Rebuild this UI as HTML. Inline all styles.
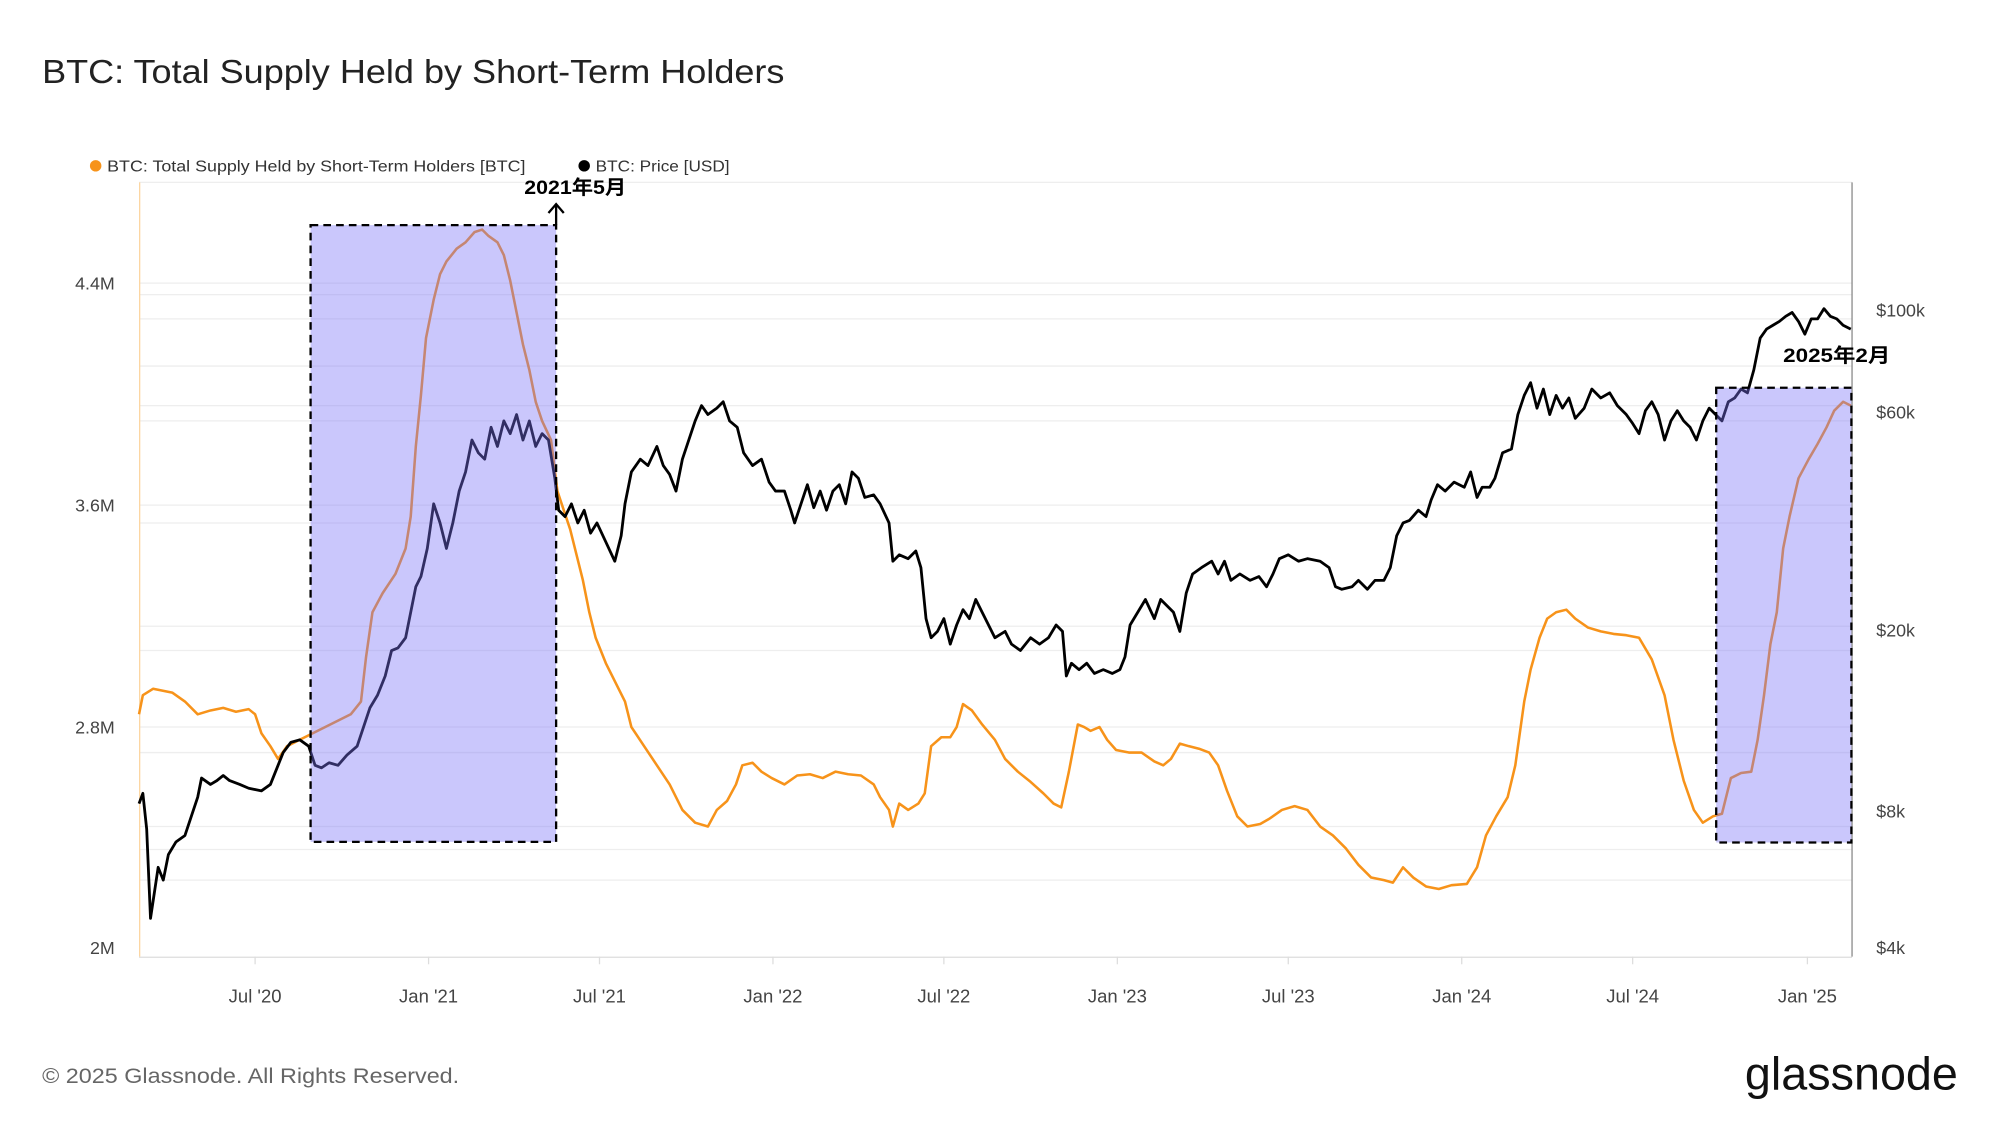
<!DOCTYPE html>
<html><head><meta charset="utf-8"><style>
html,body{margin:0;padding:0;background:#fff;}
svg{display:block;}
text{font-family:"Liberation Sans","Noto Sans CJK SC",sans-serif;}
</style></head><body>
<svg width="2000" height="1125" viewBox="0 0 1568 882" xmlns="http://www.w3.org/2000/svg">
<rect width="1568" height="882" fill="#fff"/>
<text x="33" y="65" font-size="26" fill="#222" textLength="582" lengthAdjust="spacingAndGlyphs">BTC: Total Supply Held by Short-Term Holders</text>
<circle cx="75" cy="130" r="4.5" fill="#f7931a"/>
<text x="84" y="134.5" font-size="12.5" fill="#333" textLength="328" lengthAdjust="spacingAndGlyphs">BTC: Total Supply Held by Short-Term Holders [BTC]</text>
<circle cx="458" cy="130" r="4.5" fill="#000"/>
<text x="467" y="134.5" font-size="12.5" fill="#333" textLength="105" lengthAdjust="spacingAndGlyphs">BTC: Price [USD]</text>
<g stroke="#eeeeee" stroke-width="1">
<line x1="109" x2="1452" y1="143" y2="143"/>
<line x1="109" x2="1452" y1="222" y2="222"/>
<line x1="109" x2="1452" y1="231" y2="231"/>
<line x1="109" x2="1452" y1="250" y2="250"/>
<line x1="109" x2="1452" y1="287" y2="287"/>
<line x1="109" x2="1452" y1="318" y2="318"/>
<line x1="109" x2="1452" y1="330" y2="330"/>
<line x1="109" x2="1452" y1="396" y2="396"/>
<line x1="109" x2="1452" y1="410" y2="410"/>
<line x1="109" x2="1452" y1="491" y2="491"/>
<line x1="109" x2="1452" y1="510" y2="510"/>
<line x1="109" x2="1452" y1="570" y2="570"/>
<line x1="109" x2="1452" y1="590" y2="590"/>
<line x1="109" x2="1452" y1="648" y2="648"/>
<line x1="109" x2="1452" y1="666" y2="666"/>
<line x1="109" x2="1452" y1="690" y2="690"/>
</g>
<line x1="109" x2="1452" y1="750.5" y2="750.5" stroke="#ddd"/>
<line x1="109.5" x2="109.5" y1="143" y2="750" stroke="#fcd5a0"/>
<line x1="1452" x2="1452" y1="143" y2="750" stroke="#888"/>
<g stroke="#ddd"><line x1="200" x2="200" y1="750" y2="756"/><line x1="336" x2="336" y1="750" y2="756"/><line x1="470" x2="470" y1="750" y2="756"/><line x1="606" x2="606" y1="750" y2="756"/><line x1="740" x2="740" y1="750" y2="756"/><line x1="876" x2="876" y1="750" y2="756"/><line x1="1010" x2="1010" y1="750" y2="756"/><line x1="1146" x2="1146" y1="750" y2="756"/><line x1="1280" x2="1280" y1="750" y2="756"/><line x1="1417" x2="1417" y1="750" y2="756"/></g>
<g font-size="14" fill="#444" text-anchor="end">
<text x="90" y="227">4.4M</text><text x="90" y="401">3.6M</text><text x="90" y="575">2.8M</text><text x="90" y="748">2M</text>
</g>
<g font-size="14" fill="#444">
<text x="1471" y="248">$100k</text><text x="1471" y="328">$60k</text><text x="1471" y="499">$20k</text><text x="1471" y="641">$8k</text><text x="1471" y="748">$4k</text>
</g>
<g font-size="14.5" fill="#444" text-anchor="middle">
<text x="200" y="786">Jul '20</text><text x="336" y="786">Jan '21</text><text x="470" y="786">Jul '21</text><text x="606" y="786">Jan '22</text><text x="740" y="786">Jul '22</text><text x="876" y="786">Jan '23</text><text x="1010" y="786">Jul '23</text><text x="1146" y="786">Jan '24</text><text x="1280" y="786">Jul '24</text><text x="1417" y="786">Jan '25</text>
</g>
<polyline fill="none" stroke="#f7931a" stroke-width="2" stroke-linejoin="round" points="109,560 112,545 120,540 135,543 145,550 155,560 165,557 175,555 185,558 195,556 200,560 205,575 212,585 218,595 225,585 235,580 245,575 255,570 265,565 275,560 283,550 287,515 292,480 300,465 310,450 318,430 322,405 326,350 330,310 334,265 340,235 345,215 350,205 358,195 365,190 372,182 378,180 383,185 390,190 395,200 400,220 405,245 410,270 415,290 420,315 425,330 432,345 437,385 442,400 447,415 452,435 457,455 462,480 467,500 475,520 485,540 490,550 495,570 505,585 515,600 525,615 535,635 545,645 555,648 562,635 570,628 577,615 582,600 590,598 597,605 605,610 615,615 625,608 635,607 645,610 655,605 665,607 675,608 685,615 690,625 697,635 700,648 705,630 712,635 720,630 725,622 730,585 738,578 745,578 750,570 755,552 762,557 770,568 780,580 788,595 798,605 808,613 818,622 826,630 832,633 838,605 845,568 850,570 855,573 862,570 868,580 875,588 885,590 895,590 905,597 912,600 918,595 925,583 932,585 940,587 948,590 955,600 962,620 970,640 978,648 988,646 995,642 1005,635 1015,632 1025,635 1035,648 1045,655 1055,665 1065,678 1075,688 1085,690 1092,692 1100,680 1108,688 1118,695 1128,697 1138,694 1150,693 1158,680 1165,655 1173,640 1182,625 1188,600 1195,550 1200,525 1207,500 1213,485 1220,480 1228,478 1235,485 1245,492 1255,495 1265,497 1275,498 1285,500 1295,517 1305,545 1312,580 1320,612 1328,635 1335,645 1343,640 1350,638 1357,610 1365,606 1373,605 1378,580 1383,545 1388,505 1393,480 1398,430 1403,405 1410,375 1418,360 1425,348 1432,335 1438,322 1445,315 1451,318"/>
<polyline fill="none" stroke="#000" stroke-width="2.2" stroke-linejoin="round" points="109,630 112,622 115,650 118,720 121,700 124,680 128,690 132,670 138,660 145,655 150,640 155,625 158,610 165,615 170,612 175,608 180,612 188,615 195,618 205,620 212,615 218,600 222,590 228,582 235,580 242,585 247,600 252,602 258,598 265,600 272,592 280,585 285,570 290,555 296,545 302,530 307,510 312,508 318,500 322,480 326,460 330,452 335,430 340,395 345,410 350,430 355,410 360,385 365,370 370,345 375,355 380,360 385,335 390,350 395,330 400,340 405,325 410,345 415,330 420,350 425,340 430,345 435,375 438,400 443,405 448,395 453,410 458,400 463,418 468,410 475,425 482,440 487,420 490,395 495,370 502,360 508,365 515,350 520,365 525,372 530,385 535,360 540,345 545,330 550,318 555,325 562,320 567,315 572,330 578,335 583,355 590,365 597,360 603,378 608,385 615,385 620,400 623,410 628,395 633,380 638,398 643,385 648,400 653,385 658,380 663,395 668,370 673,375 678,390 685,388 690,395 697,410 700,440 705,435 712,438 718,432 722,445 726,485 730,500 735,495 740,485 745,505 750,490 755,478 760,485 765,470 770,480 775,490 780,500 788,495 793,505 800,510 808,500 815,505 822,500 828,490 833,495 836,530 840,520 846,525 852,520 858,528 865,525 872,528 878,525 882,515 886,490 892,480 898,470 905,485 910,470 915,475 920,480 925,495 930,465 935,450 942,445 950,440 955,450 960,440 965,455 972,450 980,455 987,452 993,460 998,450 1003,438 1010,435 1018,440 1025,438 1035,440 1042,445 1047,460 1052,462 1060,460 1065,455 1072,462 1078,455 1085,455 1090,445 1095,420 1100,410 1105,408 1112,400 1118,405 1122,392 1127,380 1133,385 1140,378 1148,382 1153,370 1158,390 1162,382 1168,382 1172,375 1178,355 1185,352 1190,325 1195,310 1200,300 1205,320 1210,305 1215,325 1220,310 1225,320 1230,312 1235,328 1242,320 1248,305 1255,312 1262,308 1268,318 1275,325 1280,332 1285,340 1290,322 1295,315 1300,325 1305,345 1310,330 1315,322 1320,330 1325,335 1330,345 1335,330 1340,320 1345,325 1350,330 1355,315 1360,312 1365,305 1370,308 1375,290 1380,265 1385,258 1390,255 1395,252 1400,248 1405,245 1410,252 1415,262 1420,250 1425,250 1430,242 1435,248 1440,250 1445,255 1451,258"/>
<rect x="243.5" y="176.5" width="192.5" height="483.5" fill="#7b73f7" fill-opacity="0.4" stroke="#000" stroke-width="1.8" stroke-dasharray="6,4"/>
<rect x="1345.5" y="304" width="106" height="356.5" fill="#7b73f7" fill-opacity="0.4" stroke="#000" stroke-width="1.8" stroke-dasharray="6,4"/>
<line x1="436" x2="436" y1="176" y2="160" stroke="#000" stroke-width="1.8"/>
<polyline points="430,167 436,160 442,167" fill="none" stroke="#000" stroke-width="1.8"/>
<text x="451" y="152" font-size="15" font-weight="bold" fill="#000" text-anchor="middle" textLength="80" lengthAdjust="spacingAndGlyphs">2021年5月</text>
<text x="1440" y="284" font-size="15" font-weight="bold" fill="#000" text-anchor="middle" textLength="84" lengthAdjust="spacingAndGlyphs">2025年2月</text>
<text x="33" y="849" font-size="17" fill="#666" textLength="327" lengthAdjust="spacingAndGlyphs">© 2025 Glassnode. All Rights Reserved.</text>
<text x="1368" y="854" font-size="36" fill="#111" textLength="167" lengthAdjust="spacingAndGlyphs">glassnode</text>
</svg>
</body></html>
